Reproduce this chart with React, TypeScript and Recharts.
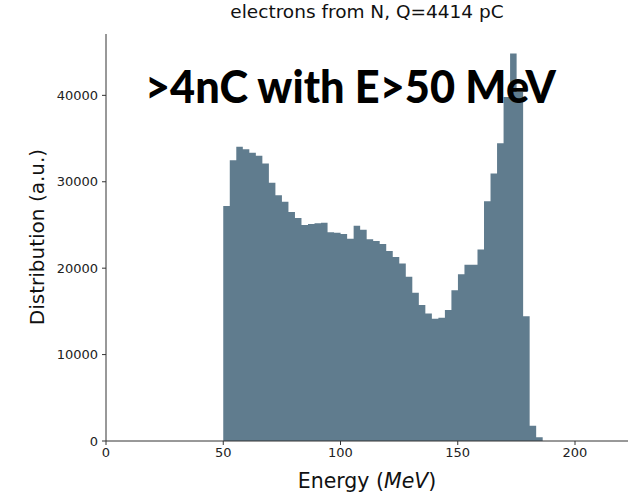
import React from 'react';
import { AreaChart, Area, XAxis, YAxis } from 'recharts';

// histogram of electron energies, first bin starts at 50 MeV
const binStart = 50;
const binWidth = 2.78;
const counts = [
  27200, 32500, 34050, 33750, 33350, 33000, 32100, 29900, 28450, 27700,
  26500, 25800, 25000, 25100, 25200, 25250, 24150, 24100, 23950, 23400,
  24900, 24450, 23350, 23150, 22800, 22000, 21300, 20550, 19000, 17150,
  15750, 14750, 14150, 14250, 15150, 17450, 19300, 20400, 20400, 22150,
  27750, 30950, 34450, 39800, 44850, 40400, 14450, 1770, 430,
];
const xTicks = [0, 50, 100, 150, 200];
const yTicks = [0, 10000, 20000, 30000, 40000];

// one point per bin edge; the closing edge drops back to zero
const data = [...counts, 0].map((count, i) => ({
  energy: binStart + i * binWidth,
  count,
}));

const font = '"DejaVu Sans", sans-serif';
const axisColor = '#333';
const tickStyle = { fill: '#222', fontSize: 13, fontFamily: font };

export default function App() {
  return (
    <div style={{ position: 'absolute', left: 0, top: 0, width: 628, height: 497, background: '#fff', overflow: 'hidden' }}>
      <AreaChart width={628} height={497} data={data} margin={{ top: 34, right: 0, bottom: 0, left: 0 }}>
        <XAxis
          type="number"
          dataKey="energy"
          domain={[0, 222.6]}
          ticks={xTicks}
          allowDataOverflow
          height={56}
          tickSize={4}
          tickMargin={3}
          stroke={axisColor}
          tick={tickStyle}
        />
        <XAxis xAxisId="top" orientation="top" type="number" domain={[0, 222.6]} height={0} tick={false} tickLine={false} stroke={axisColor} />
        <YAxis
          type="number"
          domain={[0, 47100]}
          ticks={yTicks}
          allowDataOverflow
          width={106}
          tickSize={4}
          tickMargin={4}
          stroke={axisColor}
          tick={tickStyle}
        />
        <Area
          type="stepAfter"
          dataKey="count"
          stroke="none"
          fill="#607c8e"
          fillOpacity={1}
          dot={false}
          activeDot={false}
          isAnimationActive={false}
        />
      </AreaChart>

      <div style={{ position: 'absolute', left: 106, width: 522, top: 1, textAlign: 'center', fontFamily: font, fontSize: 18.5, color: '#111' }}>
        electrons from N, Q=4414 pC
      </div>
      <div style={{ position: 'absolute', left: 106, width: 522, top: 469, textAlign: 'center', fontFamily: font, fontSize: 20.5, color: '#111' }}>
        Energy (<i>MeV</i>)
      </div>
      <div
        style={{
          position: 'absolute',
          left: 37,
          top: 237,
          transform: 'translate(-50%, -50%) rotate(-90deg)',
          whiteSpace: 'nowrap',
          fontFamily: font,
          fontSize: 20,
          color: '#111',
        }}
      >
        Distribution (a.u.)
      </div>
      <svg width={628} height={497} style={{ position: 'absolute', left: 0, top: 0, pointerEvents: 'none' }}>
        <text
          x={145}
          y={103}
          textLength={411}
          lengthAdjust="spacingAndGlyphs"
          fontFamily='Lato, "Open Sans", sans-serif'
          fontWeight={900}
          fontSize={46}
          fill="#000"
        >
          {'>4nC with E>50 MeV'}
        </text>
      </svg>
    </div>
  );
}
